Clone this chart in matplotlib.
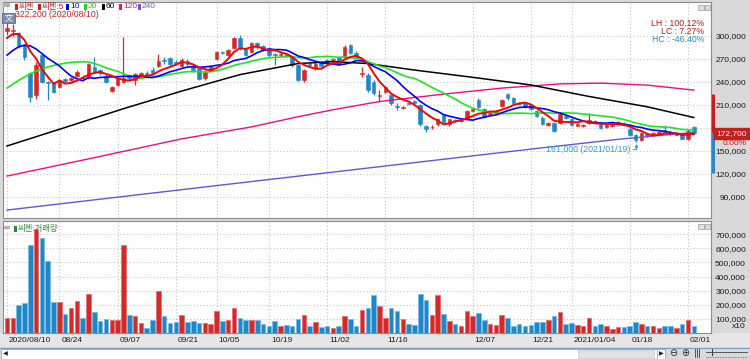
import numpy as np
import pandas as pd
import matplotlib
matplotlib.use("Agg")
import matplotlib.pyplot as plt
import matplotlib.transforms as mtransforms
from matplotlib.patches import Rectangle
from matplotlib.lines import Line2D
from matplotlib.ticker import FuncFormatter

plt.rcParams['font.family'] = ['Liberation Sans Narrow', 'Liberation Sans', 'Noto Sans CJK KR', 'DejaVu Sans']

# ---------------- data ----------------
start_date = "2020-08-10"
end_date = "2021-02-02"
holidays = ["2020-08-17", "2020-09-30", "2020-10-01", "2020-10-02", "2020-10-09",
            "2020-12-25", "2020-12-31", "2021-01-01"]

opens = [307000, 306000, 303500, 288000, 251000, 222700, 275000, 240000, 238000, 233600,
         243500, 242500, 247600, 247000, 247000, 260000, 255000, 247600, 228300, 235800,
         240000, 249000, 242400, 247600, 252000, 256000, 260700, 269000, 271000, 266000,
         261000, 267700, 260000, 257700, 244600, 255500, 269500, 279500, 275000, 284000,
         298000, 282600, 279400, 291000, 287000, 284000, 277000, 275000, 276000, 272000,
         262000, 242400, 264000, 257700, 265500, 268600, 268000, 272000, 273000, 288000,
         278000, 250000, 249000, 240000, 222000, 227000, 222700, 209000, 206500, 213000,
         215000, 209600, 182000, 180500, 184700, 196500, 185000, 190500, 189500, 192200,
         202000, 217000, 204000, 198500, 200000, 208300, 224000, 219000, 213000, 212600,
         209600, 202000, 193500, 184000, 186500, 186500, 195500, 191000, 183000, 182500,
         186400, 189000, 185600, 181200, 182000, 184700, 185600, 179000, 170300, 164000,
         171600, 171600, 172500, 177000, 174600, 171000, 171600, 166000, 181000]
highs = [322200, 316000, 305600, 290000, 253000, 266000, 277000, 241000, 240000, 244000,
         245000, 246000, 255000, 249000, 265000, 272000, 257000, 250000, 234500, 246000,
         299000, 250000, 251000, 253000, 254000, 259000, 277000, 272000, 273000, 268000,
         271000, 270000, 262000, 260000, 255000, 261000, 281000, 281000, 283000, 299000,
         301000, 284000, 292000, 292000, 288000, 286000, 278000, 279000, 278000, 274000,
         264000, 257000, 266000, 266000, 267000, 270000, 271000, 274000, 288000, 290000,
         280000, 260000, 251000, 242000, 229000, 235000, 224000, 212000, 209000, 214000,
         216000, 211000, 184000, 184000, 192500, 198000, 192000, 192000, 192000, 203000,
         205000, 219000, 206000, 201000, 203000, 218000, 225500, 220000, 214000, 214000,
         211000, 203000, 195000, 187000, 188000, 201000, 196500, 193000, 186000, 185000,
         200000, 190000, 187000, 184500, 185000, 189000, 187000, 181000, 172000, 175000,
         173000, 174500, 176000, 183400, 176000, 173000, 173000, 179000, 182000]
lows = [301000, 300000, 284000, 269000, 214000, 218000, 238000, 216000, 225000, 232000,
        240000, 241000, 246000, 243000, 244000, 251000, 249000, 238000, 227000, 235000,
        238000, 243000, 236000, 246000, 248000, 250000, 259000, 263000, 261000, 262000,
        259000, 261000, 253000, 242000, 243000, 254000, 268000, 276000, 274000, 283000,
        282000, 274000, 278000, 283000, 280000, 273000, 262000, 273000, 272000, 260000,
        241000, 240000, 260000, 256000, 259000, 264000, 266000, 262000, 271000, 276000,
        271000, 247000, 227000, 223000, 214000, 226000, 210000, 203000, 205000, 210000,
        210000, 183000, 175000, 179000, 183000, 186000, 183000, 188000, 188000, 191000,
        201000, 205000, 193000, 197000, 199000, 207000, 216000, 211000, 210000, 206000,
        203000, 194000, 184000, 183000, 175000, 185000, 191000, 182000, 182000, 181000,
        185000, 186000, 179000, 180000, 181000, 184000, 182000, 169000, 161000, 162500,
        168000, 170500, 171500, 172000, 170500, 170000, 165000, 164000, 172000]
closes = [310000, 308000, 288000, 273000, 220500, 262000, 240000, 238000, 227000, 242400,
          241500, 244500, 253000, 245000, 263000, 253000, 251000, 240000, 233600, 244600,
          245000, 245000, 250000, 251000, 249000, 251000, 267000, 267000, 263000, 264000,
          268600, 263000, 255500, 243300, 253000, 259800, 279400, 277500, 281700, 297000,
          284000, 275000, 290400, 285000, 282000, 275000, 275000, 277000, 274500, 262000,
          243000, 255500, 262000, 264000, 261000, 266000, 269500, 264000, 286000, 278000,
          273000, 251500, 229300, 225000, 223500, 233600, 212000, 207500, 207500, 211000,
          212000, 184700, 178000, 181500, 191000, 188000, 191000, 189500, 190500, 202000,
          204000, 206600, 194300, 200000, 202000, 216000, 218500, 212000, 211000, 207400,
          204000, 195000, 185000, 186000, 176000, 198700, 193000, 183500, 184700, 184000,
          190000, 187500, 180400, 183400, 184000, 187700, 183400, 170300, 164700, 173300,
          169000, 173300, 174600, 173300, 171600, 172000, 166000, 176000, 172700]
volumes = [109000, 105000, 198000, 212000, 621000, 736000, 674000, 507000, 217000, 217000,
           133000, 179000, 229000, 109000, 276000, 150000, 86000, 102000, 90000, 95000,
           621000, 129000, 121000, 71000, 38000, 95000, 298000, 121000, 71000, 79000,
           129000, 81000, 86000, 71000, 71000, 64000, 157000, 86000, 93000, 179000,
           107000, 95000, 90000, 90000, 62000, 48000, 86000, 52000, 57000, 52000,
           100000, 129000, 52000, 81000, 43000, 48000, 36000, 50000, 117000, 100000,
           48000, 164000, 179000, 271000, 193000, 107000, 179000, 155000, 100000, 62000,
           57000, 279000, 236000, 129000, 266000, 136000, 86000, 67000, 52000, 155000,
           121000, 140000, 95000, 62000, 57000, 129000, 107000, 52000, 62000, 48000,
           57000, 81000, 76000, 90000, 124000, 151000, 64000, 69000, 57000, 50000,
           104000, 50000, 64000, 50000, 26000, 45000, 45000, 50000, 76000, 64000,
           50000, 50000, 33000, 50000, 50000, 33000, 64000, 92000, 50000]

ma5_head = [297400, 302600, 302600, 294800]
ma10_head = [275000, 281000, 286000, 288000, 287000, 283000, 277000, 271000, 266000]
ma20_head = [232000, 237000, 242000, 246500, 250500, 254000, 257000, 259500, 261500, 263000,
             264500, 265500, 266000, 266300, 266000, 264000, 261500, 258500, 256000]
# long moving averages (bar index, value)
ma60_idx = [0, 10, 20, 30, 40, 50, 56, 62, 70, 80, 90, 100, 110, 118]
ma60_val = [156300, 180500, 205000, 228000, 249500, 264000, 266500, 264000, 255500, 246000,
            236000, 221000, 207500, 193500]
ma120_idx = [0, 15, 30, 42, 50, 56, 64, 75, 85, 95, 102, 110, 118]
ma120_val = [117000, 141000, 165600, 181200, 194500, 203600, 214400, 224000, 231900, 237400,
             238400, 235800, 229300]
ma240_idx = [0, 30, 60, 90, 105, 118]
ma240_val = [72600, 99200, 125700, 152200, 165000, 174000]

tick_dates = ["2020-08-10", "2020-08-24", "2020-09-07", "2020-09-21", "2020-10-05", "2020-10-19",
              "2020-11-02", "2020-11-16", "2020-12-07", "2020-12-21", "2021-01-04", "2021-01-18",
              "2021-02-01"]
tick_labels = ["2020/08/10", "08/24", "09/07", "09/21", "10/05", "10/19", "11/02", "11/16",
               "12/07", "12/21", "2021/01/04", "01/18", "02/01"]
price_ticks = [90000, 120000, 150000, 180000, 210000, 240000, 270000, 300000]
vol_ticks = [100000, 200000, 300000, 400000, 500000, 600000, 700000]
legend_names = ["씨젠", "씨젠:5", "10", "20", "60", "120", "240"]
price_limit = 0.30

# ---------------- derived ----------------
dates = pd.bdate_range(start_date, end_date)
dates = dates[~dates.isin(pd.to_datetime(holidays))]
n = len(dates)
x = np.arange(n)
O = np.array(opens, float); Hh = np.array(highs, float)
Lw = np.array(lows, float); C = np.array(closes, float)
V = np.array(volumes, float)

s = pd.Series(C)
ma5 = s.rolling(5).mean().to_numpy(); ma5[:4] = ma5_head
ma10 = s.rolling(10).mean().to_numpy(); ma10[:9] = ma10_head
ma20 = s.rolling(20).mean().to_numpy(); ma20[:19] = ma20_head

tick_pos = [dates.get_loc(pd.Timestamp(d)) for d in tick_dates]
last = C[-1]

# ---------------- style ----------------
RED = '#d22a2a'
BLUE = '#1f86c8'
MA_COLORS = ['#ff0000', '#0000ff', '#1ee61e', '#000000', '#ec0c84', '#6a52dc']
LEG_COLORS = ['#c81e1e', '#c81e1e', '#0000ff', '#1ed81e', '#000000', '#e0147a', '#6a5ad8']
GRID = dict(color='#c4c4c4', linestyle=(0, (1, 2)), linewidth=0.8)
AXFS = 6.0

W, H = 750, 359
fig = plt.figure(figsize=(W / 100, H / 100), dpi=100, facecolor='#d9d9d9')


def fx(v):
    return v / W


def fy(v):
    return 1 - v / H


def ftext(xp, yp, s_, **kw):
    kw.setdefault('va', 'center')
    return fig.text(fx(xp), fy(yp), s_, **kw)


def frect(x0, y0, x1, y1, **kw):
    r = Rectangle((fx(x0), fy(y1)), fx(x1) - fx(x0), fy(y0) - fy(y1),
                  transform=fig.transFigure, **kw)
    fig.add_artist(r)
    return r


PL, PR = 3, 711
LABEL_END = 746
ax = fig.add_axes([fx(PL), fy(218), (PR - PL) / W, (218 - 2) / H])
axv = fig.add_axes([fx(PL), fy(333), (PR - PL) / W, (333 - 221) / H])

xlim = (-0.69, n + 1.96)
for a in (ax, axv):
    a.set_xlim(*xlim)
    a.set_facecolor('white')
    for sp in a.spines.values():
        sp.set_color('#8c8c8c')
        sp.set_linewidth(0.8)
    a.set_xticks(tick_pos)
    a.grid(True, **GRID)
    a.set_axisbelow(True)
    a.yaxis.tick_right()
    a.tick_params(axis='y', length=0, pad=(LABEL_END - PR) * 0.72, labelsize=AXFS,
                  labelcolor='#1a1a1a')
    a.tick_params(axis='x', length=0)

# price labels hidden where the current-price box sits on the scale
ax.yaxis.set_major_formatter(FuncFormatter(
    lambda v, _: "" if abs(v - last) < 10000 else f"{int(v):,}"))
axv.yaxis.set_major_formatter(FuncFormatter(lambda v, _: f"{int(v):,}"))

ax.set_ylim(62200, 344400)
ax.set_yticks(price_ticks)
ax.set_xticklabels([])
axv.set_ylim(0, 794000)
axv.set_yticks(vol_ticks)
axv.set_xticklabels(tick_labels, fontsize=AXFS, color='#1a1a1a')
axv.tick_params(axis='x', pad=3)
off = mtransforms.ScaledTranslation(2 / 100, 0, fig.dpi_scale_trans)
for lbl in axv.get_xticklabels():
    lbl.set_horizontalalignment('left')
    lbl.set_transform(lbl.get_transform() + off)
for a in (ax, axv):
    for lbl in a.get_yticklabels():
        lbl.set_horizontalalignment('right')

# ---------------- candles ----------------
up = C >= O
cols = np.where(up, RED, BLUE)
ax.vlines(x, Lw, Hh, colors=cols, linewidth=0.9, zorder=3)
body_lo = np.minimum(O, C)
body_h = np.maximum(np.abs(C - O), 800)
ax.bar(x, body_h, bottom=body_lo, width=0.62, color=cols, edgecolor=cols,
       linewidth=0.4, zorder=4)

# moving averages
ax.plot(ma240_idx, ma240_val, color=MA_COLORS[5], lw=1.0, zorder=5)
ax.plot(ma120_idx, ma120_val, color=MA_COLORS[4], lw=1.0, zorder=5)
ax.plot(ma60_idx, ma60_val, color=MA_COLORS[3], lw=1.1, zorder=5)
ax.plot(x, ma20, color=MA_COLORS[2], lw=1.2, zorder=6)
ax.plot(x, ma10, color=MA_COLORS[1], lw=1.2, zorder=6)
ax.plot(x, ma5, color=MA_COLORS[0], lw=1.4, zorder=7)

# volume bars
vedge = np.where(up, '#e87070', '#78bde6')
axv.bar(x, V, width=0.78, color=cols, edgecolor=vedge, linewidth=0.6, zorder=3)

# ---------------- annotations ----------------
imax = int(np.argmax(Hh)); imin = int(np.argmin(Lw))
hmax = Hh[imax]; lmin = Lw[imin]
ftext(15, 14.2, f"{int(hmax):,} ({dates[imax].strftime('%Y/%m/%d')})",
      fontsize=6.3, color='#d02020')
ax.annotate(f"{int(lmin):,} ({dates[imin].strftime('%Y/%m/%d')})",
            xy=(imin + 0.15, lmin), xycoords='data',
            xytext=(-6, -7), textcoords='offset pixels',
            ha='right', va='center', fontsize=6.3, color='#3a98d6',
            arrowprops=dict(arrowstyle='-|>', color='#3a98d6', lw=0.8,
                            mutation_scale=4, shrinkA=0, shrinkB=1,
                            connectionstyle='angle,angleA=0,angleB=90,rad=0'),
            zorder=8)

lh = (hmax - lmin) / lmin * 100
lc = (last - lmin) / lmin * 100
hc = (last - hmax) / hmax * 100
ftext(704, 23, f"LH : {lh:.2f}%", fontsize=6.3, color='#c01818', ha='right')
ftext(704, 31, f"LC : {lc:.2f}%", fontsize=6.3, color='#c01818', ha='right')
ftext(704, 39, f"HC : {hc:.2f}%", fontsize=6.3, color='#2a88c8', ha='right')

# current price marker on the right axis
bt = mtransforms.blended_transform_factory(ax.transAxes, ax.transData)
ax.plot([1.0025, 1.0025], [last, last * (1 + price_limit)], color='#c41e1e', lw=2.2,
        transform=bt, clip_on=False, zorder=9, solid_capstyle='butt')
ax.plot([1.0025, 1.0025], [last, last * (1 - price_limit)], color='#2a88c8', lw=2.2,
        transform=bt, clip_on=False, zorder=9, solid_capstyle='butt')
ax.plot([1.0065], [last], marker='<', color='#c41e1e', markersize=4, transform=bt,
        clip_on=False, zorder=10)
box_x = (LABEL_END + 1 - PL) / (PR - PL)
ax.text(box_x, last, f"{int(last):,}", transform=bt, ha='right', va='center',
        fontsize=AXFS, color='white', clip_on=False, zorder=11,
        bbox=dict(boxstyle='square,pad=0.25', facecolor='#c41e1e', edgecolor='#c41e1e'))
ftext(747, 144, f"{(C[-1] - C[-1]) / C[-1] * 100:.2f}%", fontsize=6.0, color='#c01818', ha='right')
ftext(746, 326.5, "x10", fontsize=6.0, color='#1a1a1a', ha='right')

# ---------------- legends / ui decorations ----------------
frect(3, 3, 10, 7, facecolor='#b4b4b4', edgecolor='none')
leg_x = [15, 38, 66, 84, 102, 119, 138]
for xp, name, colr in zip(leg_x, legend_names, LEG_COLORS):
    frect(xp, 4, xp + 2.5, 10, facecolor=colr, edgecolor='none')
    ftext(xp + 4, 7.0, name, fontsize=6.0, color=colr)
frect(2, 13, 15, 23, facecolor='#7d8fae', edgecolor='#5c6f90', lw=0.6)
ftext(8.5, 18, "文", fontsize=6, color='white', ha='center', family=['Noto Sans CJK KR'])

for yy in (5, 224):
    frect(698, yy, 703.5, yy + 5, facecolor='#dedede', edgecolor='#9a9a9a', lw=0.5)
    frect(704.5, yy, 710, yy + 5, facecolor='#dedede', edgecolor='#9a9a9a', lw=0.5)

frect(4, 226, 10, 229, facecolor='#b4b4b4', edgecolor='none')
frect(14, 226, 16.5, 232, facecolor='#2e8a2e', edgecolor='none')
ftext(18, 229, "씨젠:거래량", fontsize=6.0, color='#2e8a2e')

# date strip and scroll bar
frect(0, 333, 750, 347, facecolor='#e6e6e6', edgecolor='none', zorder=-1)
fig.add_artist(Line2D([0, 1], [fy(347.5), fy(347.5)], transform=fig.transFigure,
                      color='#7f9cc8', lw=0.8))
frect(0.5, 348.5, 657, 358.5, facecolor='white', edgecolor='#a8a8a8', lw=0.6)
frect(578, 349.5, 654, 357.5, facecolor='#e2e2e2', edgecolor='#c4c4c4', lw=0.5)
ftext(5, 353.5, "◀", fontsize=4.5, color='#202020', ha='center', family=['DejaVu Sans'])
frect(657, 348.5, 665, 358.5, facecolor='white', edgecolor='#a8a8a8', lw=0.6)
ftext(661, 353.5, "▶", fontsize=4.5, color='#202020', ha='center', family=['DejaVu Sans'])
ftext(673, 353.5, "⊖", fontsize=7, color='#303030', ha='center', family=['DejaVu Sans'])
ftext(685, 353.5, "⊕", fontsize=7, color='#303030', ha='center', family=['DejaVu Sans'])
for xx in (694.5, 696.5, 698.5):
    fig.add_artist(Line2D([fx(xx), fx(xx)], [fy(357), fy(349)], transform=fig.transFigure,
                          color='#404040', lw=0.6))
fig.add_artist(Line2D([fx(706), fx(747)], [fy(352), fy(352)], transform=fig.transFigure,
                      color='#404040', lw=0.6))
fig.add_artist(Line2D([fx(712), fx(712)], [fy(349), fy(355)], transform=fig.transFigure,
                      color='#404040', lw=0.8))
fig.add_artist(Line2D([fx(706), fx(747)], [fy(357), fy(357)], transform=fig.transFigure,
                      color='#606060', lw=0.6, linestyle=(0, (1, 1))))

fig.savefig('out.png', dpi=100, facecolor=fig.get_facecolor())
